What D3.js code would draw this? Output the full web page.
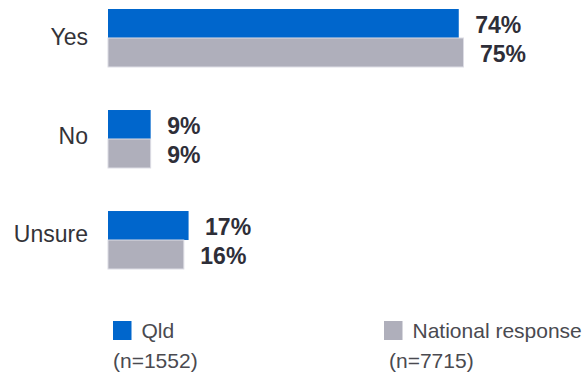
<!DOCTYPE html>
<html>
<head>
<meta charset="utf-8">
<script src="https://cdn.jsdelivr.net/npm/d3@7/dist/d3.min.js"></script>
<style>
  html, body { margin: 0; padding: 0; background: #ffffff; }
  svg { display: block; font-family: "Liberation Sans", Arial, sans-serif; }
</style>
</head>
<body>
<svg id="chart" width="582" height="374"></svg>
<script>
// Survey answers, Queensland vs national (percent)
const categories = ["Yes", "No", "Unsure"];
const seriesNames = ["Qld", "National response"];
const sampleSizes = ["(n=1552)", "(n=7715)"];
const qldValues = [74, 9, 17];
const nationalValues = [75, 9, 16];
const colors = ["#0066CC", "#AFAFBB"];

const rows = categories.map((c, i) => ({
  category: c,
  values: [
    { series: seriesNames[0], value: qldValues[i], color: colors[0] },
    { series: seriesNames[1], value: nationalValues[i], color: colors[1] }
  ]
}));

const svg = d3.select("#chart");

const x = d3.scaleLinear().domain([0, 100]).range([108, 582]);
const y = d3.scaleBand().domain(categories).range([9, 269]).paddingInner(0.426).paddingOuter(0);
const ySub = d3.scaleBand().domain(seriesNames).range([0, y.bandwidth()]).padding(0);
// Category label positions (text column sits slightly tighter than the bars)
const yLabel = d3.scalePoint().domain(categories).range([36.5, 234]);

// Category labels on the left
svg.append("g")
  .selectAll("text")
  .data(categories)
  .join("text")
  .attr("x", 88)
  .attr("y", d => yLabel(d) + 8.3)
  .attr("text-anchor", "end")
  .attr("font-size", 23)
  .attr("fill", "#333338")
  .text(d => d);

const groups = svg.append("g")
  .selectAll("g")
  .data(rows)
  .join("g")
  .attr("transform", d => `translate(0,${y(d.category)})`);

groups.selectAll("rect")
  .data(d => d.values)
  .join("rect")
  .attr("x", x(0))
  .attr("y", d => ySub(d.series))
  .attr("width", d => x(d.value) - x(0))
  .attr("height", ySub.bandwidth())
  .attr("fill", d => d.color)
  .attr("stroke", d => d.series === seriesNames[1] ? "#DCDCE4" : "none")
  .attr("stroke-width", 1);

// Value labels at the end of each bar
groups.selectAll("text")
  .data(d => d.values)
  .join("text")
  .attr("x", d => x(d.value) + 16.5)
  .attr("y", d => ySub(d.series) + ySub.bandwidth() / 2 + 9.5)
  .attr("font-size", 23)
  .attr("font-weight", "bold")
  .attr("fill", "#2E2E38")
  .text(d => d.value + "%");

// Legend
const legendX = [113, 384];
const legend = svg.append("g")
  .selectAll("g")
  .data(seriesNames)
  .join("g");

legend.append("rect")
  .attr("x", (d, i) => legendX[i])
  .attr("y", 321)
  .attr("width", 18.5)
  .attr("height", 19)
  .attr("fill", (d, i) => colors[i]);

legend.append("text")
  .attr("x", (d, i) => legendX[i] + 28.5)
  .attr("y", 338)
  .attr("font-size", 21)
  .attr("fill", "#4A4A50")
  .text(d => d);

legend.append("text")
  .attr("x", (d, i) => legendX[i] + (i === 0 ? 0 : 5))
  .attr("y", 368)
  .attr("font-size", 21)
  .attr("fill", "#4A4A50")
  .text((d, i) => sampleSizes[i]);
</script>
</body>
</html>
